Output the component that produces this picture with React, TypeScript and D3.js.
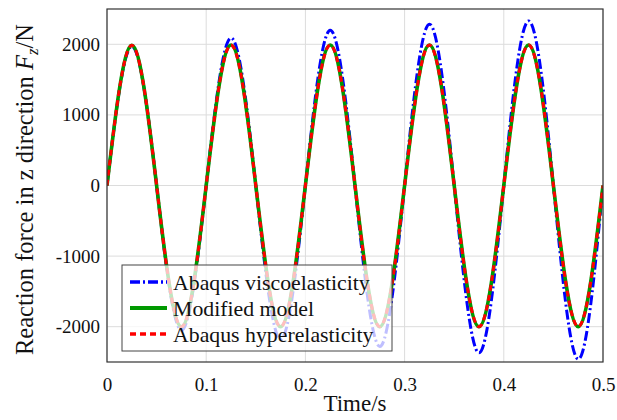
import * as d3 from "d3";
import React, { useEffect, useRef } from "react";

// samples every quarter period (peaks, troughs and zero crossings)
const times = [
  0, 0.025, 0.05, 0.075, 0.1, 0.125, 0.15, 0.175, 0.2, 0.225, 0.25, 0.275, 0.3,
  0.325, 0.35, 0.375, 0.4, 0.425, 0.45, 0.475, 0.5,
];
const viscoValues = [
  0, 1970, 0, -2050, 0, 2090, 0, -2180, 0, 2200, 0, -2280, 0, 2285, 0, -2370, 0,
  2330, 0, -2460, 0,
];
const modifiedValues = [
  0, 1985, 0, -2000, 0, 1990, 0, -2000, 0, 1990, 0, -2000, 0, 1990, 0, -2000, 0,
  1990, 0, -2000, 0,
];
const hyperValues = [
  0, 1985, 0, -2000, 0, 1990, 0, -2000, 0, 1990, 0, -2000, 0, 1990, 0, -2000, 0,
  1990, 0, -2000, 0,
];
const xTicks = [0, 0.1, 0.2, 0.3, 0.4, 0.5];
const yTicks = [-2000, -1000, 0, 1000, 2000];
const legendNames = [
  "Abaqus viscoelasticity",
  "Modified model",
  "Abaqus hyperelasticity",
];

export default function App() {
  const svgRef = useRef<SVGSVGElement>(null);
  const width = 617;
  const height = 420;
  const margin = { top: 9, right: 14, bottom: 58, left: 107 };

  useEffect(() => {
    const svg = d3.select(svgRef.current);
    svg.selectAll("*").remove();

    const innerWidth = width - margin.left - margin.right;
    const innerHeight = height - margin.top - margin.bottom;
    const font = "Liberation Serif, DejaVu Serif, serif";

    const xScale = d3.scaleLinear().domain([0, 0.5]).range([0, innerWidth]);
    const yScale = d3.scaleLinear().domain([-2500, 2500]).range([innerHeight, 0]);

    const g = svg
      .append("g")
      .attr("transform", `translate(${margin.left}, ${margin.top})`)
      .style("font-family", font);

    // grid
    g.selectAll(".vgrid")
      .data(xTicks)
      .join("line")
      .attr("x1", (d) => xScale(d))
      .attr("x2", (d) => xScale(d))
      .attr("y1", 0)
      .attr("y2", innerHeight)
      .attr("stroke", "#dcdcdc")
      .attr("stroke-width", 1);
    g.selectAll(".hgrid")
      .data(yTicks)
      .join("line")
      .attr("x1", 0)
      .attr("x2", innerWidth)
      .attr("y1", (d) => yScale(d))
      .attr("y2", (d) => yScale(d))
      .attr("stroke", "#dcdcdc")
      .attr("stroke-width", 1);

    // tick labels
    const xAxisG = g
      .append("g")
      .attr("transform", `translate(0, ${innerHeight})`)
      .call(
        d3
          .axisBottom(xScale)
          .tickValues(xTicks)
          .tickSize(0)
          .tickPadding(16)
          .tickFormat((d) => String(d))
      );
    xAxisG.attr("font-family", null);
    xAxisG.select(".domain").remove();
    xAxisG.selectAll("text").style("font-family", font).attr("font-size", 19).attr("fill", "#111");

    const yAxisG = g.append("g").call(
      d3
        .axisLeft(yScale)
        .tickValues(yTicks)
        .tickSize(0)
        .tickPadding(7)
        .tickFormat((d) => String(d))
    );
    yAxisG.attr("font-family", null);
    yAxisG.select(".domain").remove();
    yAxisG.selectAll("text").style("font-family", font).attr("font-size", 19).attr("fill", "#111");

    // curves
    const line = d3
      .line<number>()
      .x((_, i) => xScale(times[i]))
      .y((d) => yScale(d))
      .curve(d3.curveNatural);

    const series = [
      { values: viscoValues, color: "#0000ff", dash: "10,3,2,3", w: 3 },
      { values: modifiedValues, color: "#009900", dash: null, w: 3.6 },
      { values: hyperValues, color: "#ff0000", dash: "6,4", w: 3 },
    ];

    svg
      .append("defs")
      .append("clipPath")
      .attr("id", "plotclip")
      .append("rect")
      .attr("width", innerWidth)
      .attr("height", innerHeight);

    const curves = g.append("g").attr("clip-path", "url(#plotclip)");
    series.forEach((s) => {
      curves
        .append("path")
        .attr("d", line(s.values))
        .attr("fill", "none")
        .attr("stroke", s.color)
        .attr("stroke-width", s.w)
        .attr("stroke-dasharray", s.dash)
        .attr("stroke-linejoin", "round");
    });

    // frame
    g.append("rect")
      .attr("width", innerWidth)
      .attr("height", innerHeight)
      .attr("fill", "none")
      .attr("stroke", "#333")
      .attr("stroke-width", 1.2);

    // legend
    const lg = g.append("g").attr("transform", `translate(15, 256)`);
    lg.append("rect")
      .attr("width", 270)
      .attr("height", 86)
      .attr("fill", "white")
      .attr("fill-opacity", 0.75)
      .attr("stroke", "#444")
      .attr("stroke-width", 1);
    legendNames.forEach((name, i) => {
      const y = 17 + i * 26;
      const s = series[i];
      lg.append("line")
        .attr("x1", 8)
        .attr("x2", 45)
        .attr("y1", y)
        .attr("y2", y)
        .attr("stroke", s.color)
        .attr("stroke-width", s.w + 0.4)
        .attr("stroke-dasharray", s.dash);
      lg.append("text")
        .attr("x", 51)
        .attr("y", y)
        .attr("dy", "0.35em")
        .attr("font-size", 21.8)
        .attr("fill", "#111")
        .text(name);
    });

    // axis labels
    g.append("text")
      .attr("x", innerWidth / 2)
      .attr("y", innerHeight + 49)
      .attr("text-anchor", "middle")
      .attr("font-size", 23)
      .attr("fill", "#111")
      .text("Time/s");

    const yl = g
      .append("text")
      .attr("transform", `translate(-74, ${innerHeight / 2 + 4}) rotate(-90)`)
      .attr("text-anchor", "middle")
      .attr("font-size", 24.5)
      .attr("fill", "#111");
    yl.append("tspan").text("Reaction force in z direction ");
    yl.append("tspan").attr("font-style", "italic").text("F");
    yl.append("tspan").attr("font-style", "italic").attr("font-size", 17).attr("dy", 5).text("z");
    yl.append("tspan").attr("dy", -5).text("/N");
  }, []);

  return (
    <svg
      ref={svgRef}
      width={width}
      height={height}
      style={{ position: "absolute", left: 0, top: 0, background: "white" }}
    ></svg>
  );
}
